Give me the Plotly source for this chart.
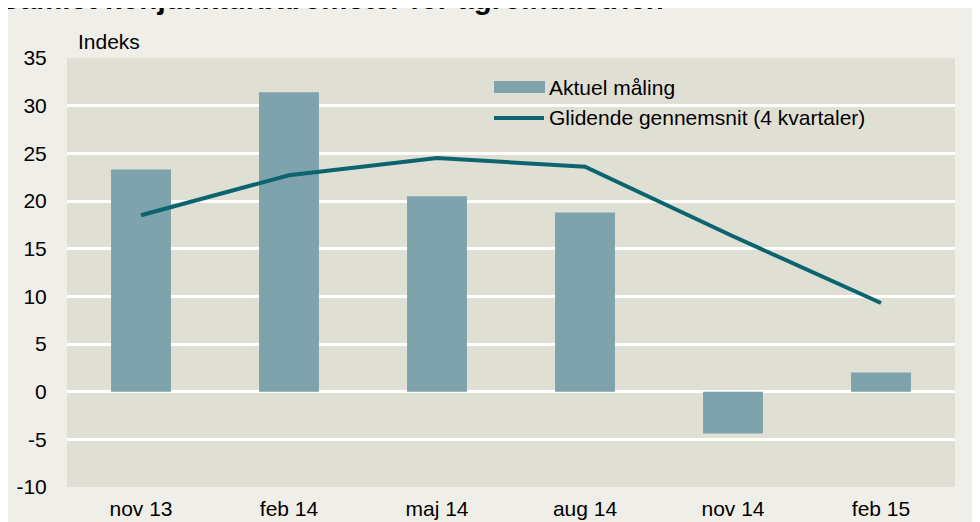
import plotly.graph_objects as go

categories = ["nov 13", "feb 14", "maj 14", "aug 14", "nov 14", "feb 15"]
aktuel = [23.3, 31.4, 20.5, 18.8, -4.4, 2.0]
glidende = [18.5, 22.7, 24.5, 23.6, 16.3, 9.3]
y_ticks = [-10, -5, 0, 5, 10, 15, 20, 25, 30, 35]
y_ticktext = ["-10", "-5", "0", "5", "10", "15", "20", "25", "30", "35"]
legend_names = ["Aktuel måling", "Glidende gennemsnit (4 kvartaler)"]

BAR_COLOR = "#7EA3AD"
LINE_COLOR = "#0B6470"

# page body margin offsets the figure by 8px
OFF = 8
W, H = 980 - OFF, 522 - OFF
L, R, T, B = 67 - OFF, 25, 58 - OFF, 35
ph = H - T - B
pw = W - L - R

def py(p):  # window pixel y -> paper
    return (H - B - (p - OFF)) / ph

def px(p):  # window pixel x -> paper
    return ((p - OFF) - L) / pw

fig = go.Figure()
fig.add_trace(go.Bar(x=categories, y=aktuel, name=legend_names[0],
                     marker=dict(color=BAR_COLOR, line=dict(width=0)),
                     showlegend=False))
fig.add_trace(go.Scatter(x=categories, y=glidende, mode="lines",
                         name=legend_names[1],
                         line=dict(color=LINE_COLOR, width=4),
                         showlegend=False))

FONT = "Liberation Sans, Arial"

fig.update_layout(
    width=W, height=H,
    margin=dict(l=L, r=R, t=T, b=B, autoexpand=False),
    paper_bgcolor="#EFEEE8",
    plot_bgcolor="#E0DFD4",
    font=dict(family=FONT, size=21, color="#000000"),
    bargap=0.595,
    showlegend=False,
    xaxis=dict(showgrid=False, ticks="outside", ticklen=3,
               tickcolor="rgba(0,0,0,0)", showline=False, zeroline=False,
               tickfont=dict(size=21), automargin=False),
    yaxis=dict(range=[-10, 35], tickvals=y_ticks, ticktext=y_ticktext,
               showgrid=True, gridcolor="#FFFFFF", gridwidth=2.5,
               zeroline=True, zerolinecolor="#FFFFFF", zerolinewidth=2.5,
               ticks="outside", ticklen=15, tickcolor="rgba(0,0,0,0)",
               showline=False, tickfont=dict(size=21), automargin=False),
    shapes=[
        dict(type="rect", xref="paper", yref="paper", x0=px(494), x1=px(545),
             y0=py(93), y1=py(81), fillcolor=BAR_COLOR, line=dict(width=0),
             layer="above"),
        dict(type="line", xref="paper", yref="paper", x0=px(494), x1=px(544),
             y0=py(118), y1=py(118), line=dict(color=LINE_COLOR, width=4),
             layer="above"),
    ],
    annotations=[
        dict(text="Indeks", xref="paper", yref="paper", x=px(76), y=py(42),
             xanchor="left", yanchor="middle", showarrow=False,
             font=dict(size=21)),
        dict(text=legend_names[0], xref="paper", yref="paper", x=px(547),
             y=py(87), xanchor="left", yanchor="middle", showarrow=False,
             font=dict(size=21)),
        dict(text=legend_names[1], xref="paper", yref="paper", x=px(547),
             y=py(117), xanchor="left", yanchor="middle", showarrow=False,
             font=dict(size=21)),
        dict(text="<b>Samlet konjunkturbarometer for agroindustrien</b>",
             xref="paper", yref="paper", x=px(-2), y=py(-2),
             xanchor="left", yanchor="middle", showarrow=False,
             font=dict(size=29.5)),
    ],
)

fig.write_html("out.html")
